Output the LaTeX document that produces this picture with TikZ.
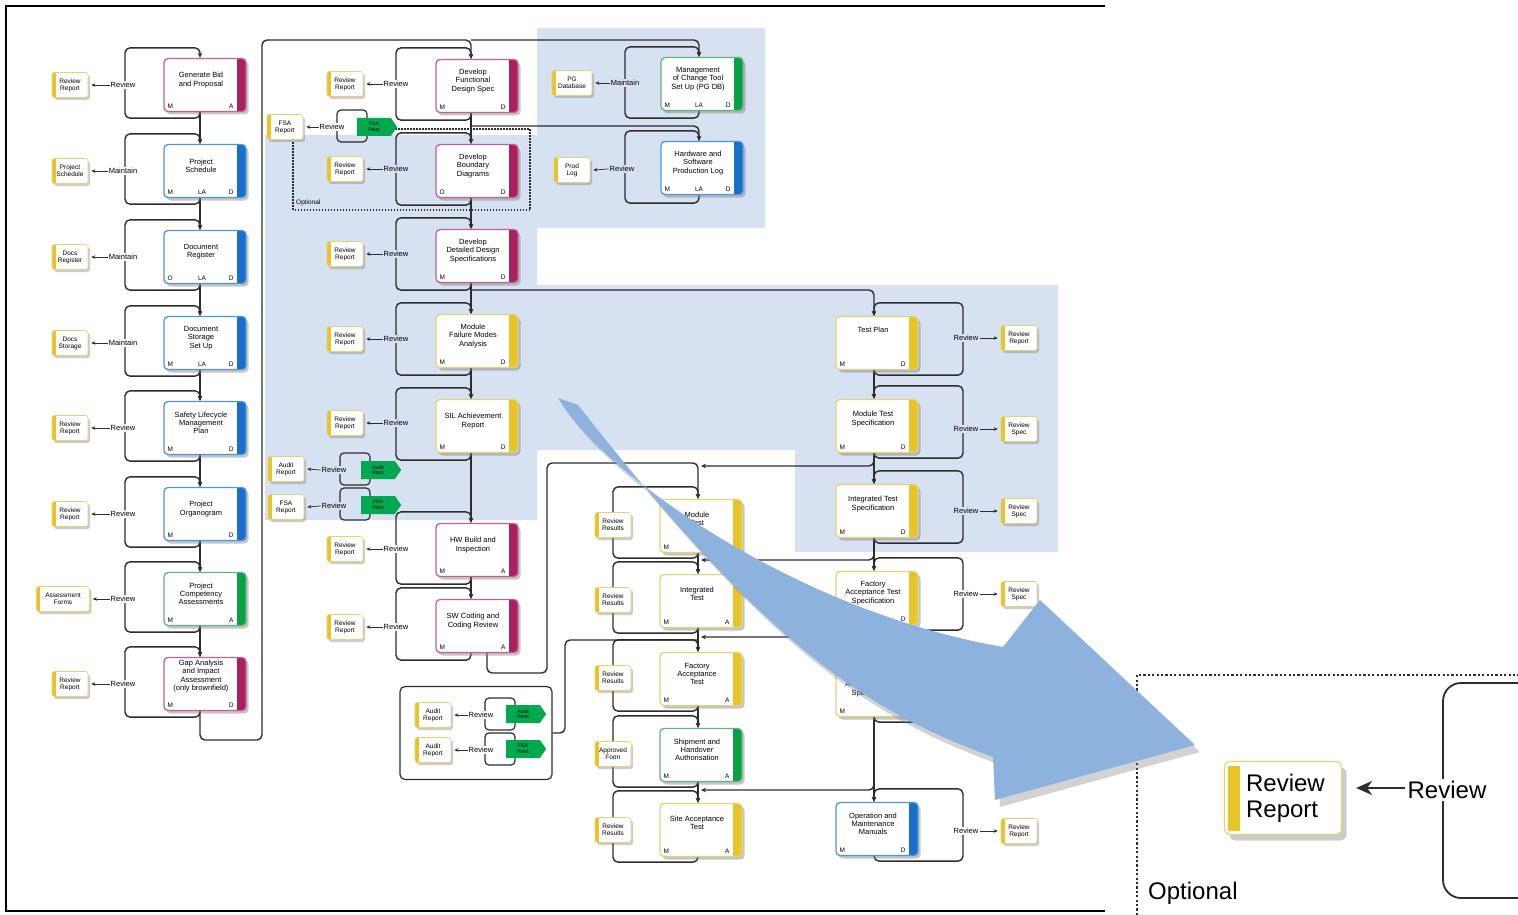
\documentclass[tikz,border=0pt]{standalone}
\usepackage{fontspec}
\setmainfont{Liberation Sans}
\usetikzlibrary{shadows,shapes.symbols,arrows.meta,calc}
\pgfdeclarelayer{bg}\pgfdeclarelayer{lines}\pgfdeclarelayer{top}
\pgfsetlayers{bg,lines,main,top}
\definecolor{bgblue}{RGB}{214,225,241}
\definecolor{bigarrow}{RGB}{141,178,221}
\definecolor{magbar}{RGB}{168,32,96}
\definecolor{magline}{RGB}{196,96,140}
\definecolor{blubar}{RGB}{24,112,200}
\definecolor{bluline}{RGB}{80,150,215}
\definecolor{grnbar}{RGB}{10,160,70}
\definecolor{grnline}{RGB}{100,180,120}
\definecolor{yelbar}{RGB}{232,196,40}
\definecolor{yelline}{RGB}{228,210,120}
\definecolor{gptcol}{RGB}{0,168,80}
\definecolor{wirecol}{RGB}{45,45,45}
\tikzset{
  procbox/.style={rounded corners=4pt, draw=#1line, line width=1.3pt, fill=white,
    minimum width=82pt, minimum height=53pt, inner sep=0pt,
    drop shadow={shadow xshift=2.5pt,shadow yshift=-3pt,opacity=0.45},
    path picture={\fill[#1bar,sharp corners] ([xshift=-9pt]path picture bounding box.north east) rectangle (path picture bounding box.south east);}},
  ptext/.style={font=\fontsize{7.5}{8.2}\selectfont, align=center, inner sep=0pt},
  plab/.style={font=\fontsize{6.5}{7}\selectfont, inner sep=0pt},
  docbox/.style={rounded corners=2.5pt, draw=yelline, line width=0.6pt, fill=white,
    minimum width=36pt, minimum height=25pt, inner sep=0pt, align=center,
    font=\fontsize{6.5}{7}\selectfont,
    drop shadow={shadow xshift=2pt,shadow yshift=-2.5pt,opacity=0.4},
    path picture={\fill[yelbar,sharp corners] (path picture bounding box.north west) rectangle ([xshift=3.5pt]path picture bounding box.south west);}},
  revlab/.style={font=\fontsize{7.5}{8}\selectfont, fill=white, inner sep=1pt},
  revblue/.style={revlab, fill=bgblue},
  wire/.style={draw=wirecol, line width=1.4pt, rounded corners=5pt},
  arrowend/.style={-{Stealth[length=5pt,width=4.5pt]}},
  sarr/.style={draw=wirecol, line width=0.7pt, -{Stealth[length=4pt,width=3.5pt]}},
  minibr/.style={draw=wirecol, line width=1.2pt, rounded corners=4pt, minimum width=30pt, minimum height=32pt, inner sep=0pt},
  greenpt/.style={shape=signal, signal to=east, signal pointer angle=110, fill=gptcol,
    minimum width=40pt, minimum height=18pt, inner sep=0pt, align=center,
    font=\fontsize{5}{5.5}\selectfont},
  optline/.style={draw=wirecol, line width=1.3pt, dash pattern=on 1.5pt off 1.5pt},
}
\newcommand\procnode[8][5pt]{%
  \node[procbox=#4] (#2) at (#3) {};
  \node[ptext] at ([xshift=-4pt,yshift=#1]#2.center) {#5};
  \node[plab,anchor=base west] at ([xshift=4pt,yshift=3.5pt]#2.south west) {#6};
  \node[plab,anchor=base] at ([xshift=-3pt,yshift=3.5pt]#2.south) {#7};
  \node[plab,anchor=base east] at ([xshift=-13pt,yshift=3.5pt]#2.south east) {#8};
}
\newcommand\docnode[4][]{\node[docbox,#1] (#2) at (#3) {#4};}
\newcommand\revleft[5][revlab]{\node[#1] (#2) at (#3) {#4};
  \draw[sarr] (#2.west) -- ([xshift=3pt]#5.east);}
\newcommand\revright[5][revlab]{\node[#1] (#2) at (#3) {#4};
  \draw[sarr] (#2.east) -- ([xshift=-3pt]#5.west);}
\newcommand\brkloop[5]{%
  \draw[wire,arrowend] (#1.south -| #2) -- ([yshift=-#5]#1.south -| #2) -- ([yshift=-#5]#1.south -| #3)
    -- ([yshift=#4]#1.north -| #3) -- ([yshift=#4]#1.north -| #2) -- (#1.north -| #2);}
\begin{document}
\begin{tikzpicture}[x=1pt,y=-1pt]
\useasboundingbox (0,0) rectangle (1518,915);
\begin{pgfonlayer}{bg}
\fill[white] (0,0) rectangle (1518,915);
\fill[bgblue] (265,135) -- (537,135) -- (537,28) -- (765,28) -- (765,228) -- (537,228) -- (537,285)
  -- (1058,285) -- (1058,552) -- (795,552) -- (795,450) -- (537,450) -- (537,520) -- (265,520) -- cycle;
\draw[line width=2.5pt, black] (1105,6) -- (6,6) -- (6,911) -- (1105,911);
\end{pgfonlayer}

% spine and bracket coordinates
\coordinate (spL) at (200,0); \coordinate (brL) at (125,0);
\coordinate (spM) at (471,0); \coordinate (brM) at (396,0);
\coordinate (spC) at (699,0); \coordinate (brC) at (625,0);
\coordinate (spR) at (874,0); \coordinate (brR) at (963,0);
\coordinate (spT) at (698,0); \coordinate (brT) at (613,0);

% left column
\procnode{b1}{205,85}{mag}{Generate Bid\\and Proposal}{M}{}{A}
\procnode{b2}{205,171}{blu}{Project\\Schedule}{M}{LA}{D}
\procnode{b3}{205,257}{blu}{Document\\Register}{O}{LA}{D}
\procnode{b4}{205,343}{blu}{Document\\Storage\\Set Up}{M}{LA}{D}
\procnode{b5}{205,428}{blu}{Safety Lifecycle\\Management\\Plan}{M}{}{D}
\procnode{b6}{205,514}{blu}{Project\\Organogram}{M}{}{D}
\procnode{b7}{205,599}{grn}{Project\\Competency\\Assessments}{M}{}{A}
\procnode[8pt]{b8}{205,684}{mag}{Gap Analysis\\and Impact\\Assessment\\(only brownfield)}{M}{}{D}

% middle column
\procnode{m1}{477,86}{mag}{Develop\\Functional\\Design Spec}{M}{}{D}
\procnode{m2}{477,171}{mag}{Develop\\Boundary\\Diagrams}{O}{}{D}
\procnode{m3}{477,256}{mag}{Develop\\Detailed Design\\Specifications}{M}{}{D}
\procnode{m4}{477,341}{yel}{Module\\Failure Modes\\Analysis}{M}{}{D}
\procnode{m5}{477,426}{yel}{SIL Achievement\\Report}{M}{}{D}
\procnode{m6}{477,550}{mag}{HW Build and\\Inspection}{M}{}{A}
\procnode{m7}{477,626}{mag}{SW Coding and\\Coding Review}{M}{}{A}

% change tool column
\procnode{c1}{702,84}{grn}{Management\\of Change Tool\\Set Up (PG DB)}{M}{LA}{D}
\procnode{c2}{702,168}{blu}{Hardware and\\Software\\Production Log}{M}{LA}{D}

% right column
\procnode[13pt]{r1}{877,343}{yel}{Test Plan}{M}{}{D}
\procnode[7pt]{r2}{877,426}{yel}{Module Test\\Specification}{M}{}{D}
\procnode[7pt]{r3}{877,511}{yel}{Integrated Test\\Specification}{M}{}{D}
\procnode{r4}{877,598}{yel}{Factory\\Acceptance Test\\Specification}{M}{}{D}
\procnode{r5}{877,690}{yel}{Site\\Acceptance Test\\Specification}{M}{}{D}
\procnode{r6}{877,829}{blu}{Operation and\\Maintenance\\Manuals}{M}{}{D}

% test execution column
\procnode[7pt]{t1}{701,526}{yel}{Module\\Test}{M}{}{A}
\procnode[7pt]{t2}{701,601}{yel}{Integrated\\Test}{M}{}{A}
\procnode{t3}{701,679}{yel}{Factory\\Acceptance\\Test}{M}{}{A}
\procnode{t4}{701,755}{grn}{Shipment and\\Handover\\Authorisation}{M}{}{A}
\procnode[7pt]{t5}{701,830}{yel}{Site Acceptance\\Test}{M}{}{A}

% connectors
\begin{pgfonlayer}{lines}
\foreach \a/\b in {b1/b2,b2/b3,b3/b4,b4/b5,b5/b6,b6/b7,b7/b8}{\draw[wire,arrowend] (\a.south -| spL) -- (\b.north -| spL);}
\foreach \a/\b in {m1/m2,m2/m3,m3/m4,m4/m5,m5/m6,m6/m7}{\draw[wire,arrowend] (\a.south -| spM) -- (\b.north -| spM);}
\foreach \a/\b in {r1/r2,r2/r3,r3/r4,r4/r5,r5/r6}{\draw[wire,arrowend] (\a.south -| spR) -- (\b.north -| spR);}
\foreach \a/\b in {t1/t2,t2/t3,t3/t4,t4/t5}{\draw[wire,arrowend] (\a.south -| spT) -- (\b.north -| spT);}
\foreach \n in {b1,b2,b3,b4,b5,b6,b7,b8}{\brkloop{\n}{spL}{brL}{10pt}{6pt}}
\foreach \n in {m1,m2,m3,m4,m5,m6,m7}{\brkloop{\n}{spM}{brM}{11pt}{7pt}}
\brkloop{c1}{spC}{brC}{10pt}{7pt}
\brkloop{c2}{spC}{brC}{10pt}{8pt}
\foreach \n in {r1,r2,r3,r4,r5,r6}{\brkloop{\n}{spR}{brR}{13pt}{5pt}}
\foreach \n in {t1,t2,t3,t4,t5}{\brkloop{\n}{spT}{brT}{12pt}{5pt}}
% return from gap analysis to design and change tool
\coordinate (ret) at (262,740); \coordinate (topline) at (262,40);
\draw[wire,arrowend] (b8.south -| spL) |- (ret) -- (topline) -| (m1.north -| spM);
\draw[wire,arrowend] (spM |- topline) -| (c1.north -| spC);
\coordinate (hb) at (0,126);
\draw[wire,arrowend] (spM |- hb) -| (c2.north -| spC);
\coordinate (tb) at (0,290);
\draw[wire,arrowend] (spM |- tb) -| (r1.north -| spR);
% SW coding to module test
\coordinate (swx) at (487,0); \coordinate (swc) at (547,673); \coordinate (swt) at (547,463);
\draw[wire,arrowend] (m7.south -| swx) |- (swc) -- (swt) -| (t1.north -| spT);
% specifications to tests
\coordinate (k1s) at (0,455); \coordinate (k1e) at (701,466);
\coordinate (k2s) at (0,546); \coordinate (k2e) at (701,560);
\coordinate (k3s) at (0,627); \coordinate (k3e) at (701,637);
\coordinate (k4s) at (0,778); \coordinate (k4e) at (701,790);
\foreach \k in {1,2,3,4}{\draw[wire,arrowend] (spR |- k\k s) |- (k\k e);}
% optional frame
\draw[optline] (395,129) -- (530,129) -- (530,210) -- (293,210) -- (293,141);
\end{pgfonlayer}
\node[plab,anchor=west,font=\fontsize{6.5}{7}\selectfont] (opt) at (296,203) {Optional};

% left outputs
\docnode{d1}{70,85}{Review\\Report}
\docnode{d2}{70,171}{Project\\Schedule}
\docnode{d3}{70,257}{Docs\\Register}
\docnode{d4}{70,343}{Docs\\Storage}
\docnode{d5}{70,428}{Review\\Report}
\docnode{d6}{70,514}{Review\\Report}
\docnode[minimum width=53pt]{d7}{63,599}{Assessment\\Forms}
\docnode{d8}{70,684}{Review\\Report}
\revleft{l1}{123,85}{Review}{d1}
\revleft{l2}{123,171}{Maintain}{d2}
\revleft{l3}{123,257}{Maintain}{d3}
\revleft{l4}{123,343}{Maintain}{d4}
\revleft{l5}{123,428}{Review}{d5}
\revleft{l6}{123,514}{Review}{d6}
\revleft{l7}{123,599}{Review}{d7}
\revleft{l8}{123,684}{Review}{d8}

% middle outputs
\docnode{e1}{345,84}{Review\\Report}
\docnode{e2}{345,169}{Review\\Report}
\docnode{e3}{345,254}{Review\\Report}
\docnode{e4}{345,339}{Review\\Report}
\docnode{e5}{345,423}{Review\\Report}
\docnode{e6}{345,549}{Review\\Report}
\docnode{e7}{345,627}{Review\\Report}
\revleft{n1}{396,84}{Review}{e1}
\revleft[revblue]{n2}{396,169}{Review}{e2}
\revleft[revblue]{n3}{396,254}{Review}{e3}
\revleft[revblue]{n4}{396,339}{Review}{e4}
\revleft[revblue]{n5}{396,423}{Review}{e5}
\revleft{n6}{396,549}{Review}{e6}
\revleft{n7}{396,627}{Review}{e7}

% change tool outputs
\docnode[minimum width=40pt]{f1}{572,83}{PG\\Database}
\docnode{f2}{572,170}{Prod\\Log}
\revleft[revblue]{o1}{625,83}{Maintain}{f1}
\revleft[revblue]{o2}{622,169}{Review}{f2}

% right outputs
\docnode{g1}{1019,338}{Review\\Report}
\docnode{g2}{1019,429}{Review\\Spec}
\docnode{g3}{1019,511}{Review\\Spec}
\docnode{g4}{1019,594}{Review\\Spec}
\docnode{g5}{1019,688}{Review\\Spec}
\docnode{g6}{1019,831}{Review\\Report}
\revright[revblue]{p1}{966,338}{Review}{g1}
\revright[revblue]{p2}{966,429}{Review}{g2}
\revright[revblue]{p3}{966,511}{Review}{g3}
\revright{p4}{966,594}{Review}{g4}
\revright{p5}{966,688}{Review}{g5}
\revright{p6}{966,831}{Review}{g6}

% test outputs
\docnode{h1}{613,525}{Review\\Results}
\docnode{h2}{613,600}{Review\\Results}
\docnode{h3}{613,678}{Review\\Results}
\docnode{h4}{613,754}{Approved\\Form}
\docnode{h5}{613,830}{Review\\Results}

% FSA / audit points
\docnode{fa}{285,127}{FSA\\Report}
\node[minibr] (fb) at (352,126) {};
\revleft{fr}{332,127}{Review}{fa}
\node[greenpt] (fg) at (374,127) {FSA\\Point};

\docnode{aa}{286,469}{Audit\\Report}
\node[minibr] (ab) at (355,469) {};
\revleft[revblue]{ar}{334,470}{Review}{aa}
\node[greenpt] (ag) at (378,470) {Audit\\Point};

\docnode{sa}{286,507}{FSA\\Report}
\node[minibr] (sb) at (355,504) {};
\revleft[revblue]{sr}{334,506}{Review}{sa}
\node[greenpt] (sg) at (378,505) {FSA\\Point};

\node[draw=wirecol, line width=1.2pt, rounded corners=5pt, minimum width=152pt, minimum height=93pt] (aud) at (476,733) {};
\docnode{ua}{433,715}{Audit\\Report}
\node[minibr] (ub) at (500,714) {};
\revleft{ur}{481,715}{Review}{ua}
\node[greenpt] (ug) at (523,714) {Audit\\Point};
\docnode{va}{433,750}{Audit\\Report}
\node[minibr] (vb) at (500,749) {};
\revleft{vr}{481,750}{Review}{va}
\node[greenpt] (vg) at (523,749) {FSA\\Point};
\coordinate (au1) at (565,733); \coordinate (au2) at (565,640); \coordinate (au3) at (698,640);
\begin{pgfonlayer}{lines}
\draw[wire] (aud.east) -- (au1) -- (au2) -- (au3);
\end{pgfonlayer}

% inset (enlarged detail)
\draw[draw=wirecol, line width=2.2pt, dash pattern=on 2.2pt off 2.2pt] (1137,915) -- (1137,675) -- (1518,675);
\draw[draw=wirecol, line width=1.8pt, rounded corners=18pt] (1518,683) -- (1443,683) -- (1443,898) -- (1518,898);
\node[rounded corners=6pt, draw=yelline, line width=1.2pt, fill=white, minimum width=117pt, minimum height=73pt, inner sep=0pt,
  drop shadow={shadow xshift=5pt,shadow yshift=-6pt,opacity=0.4},
  path picture={\fill[yelbar,sharp corners] ([xshift=3pt,yshift=-4pt]path picture bounding box.north west) rectangle ([xshift=15pt,yshift=4pt]path picture bounding box.south west);}] (ibox) at (1283,798) {};
\node[font=\fontsize{24}{26}\selectfont, align=left, anchor=west, inner sep=0pt] (itext) at ([xshift=22pt]ibox.west) {Review\\Report};
\node[font=\fontsize{24}{26}\selectfont, fill=white, inner sep=2pt] (irev) at (1447,790) {Review};
\coordinate (ibe) at ([xshift=14pt]ibox.east);
\draw[draw=wirecol, line width=1.6pt, -{Stealth[length=16pt,width=14pt,inset=5pt]}] ([yshift=2pt]irev.west) -- ([yshift=2pt]irev.west -| ibe);
\node[font=\fontsize{24}{26}\selectfont, anchor=west, inner sep=0pt] (iopt) at (1148,893) {Optional};

% big arrow
\begin{pgfonlayer}{top}
\fill[bigarrow, drop shadow={shadow xshift=5pt,shadow yshift=-7pt,opacity=0.35}]
  (558,398) .. controls (600,470) and (790,610) .. (1003,647) -- (1040,600) -- (1195,745) -- (995,800) -- (993,757)
  .. controls (870,712) and (770,650) .. (578,405) -- cycle;
\end{pgfonlayer}
\end{tikzpicture}
\end{document}
